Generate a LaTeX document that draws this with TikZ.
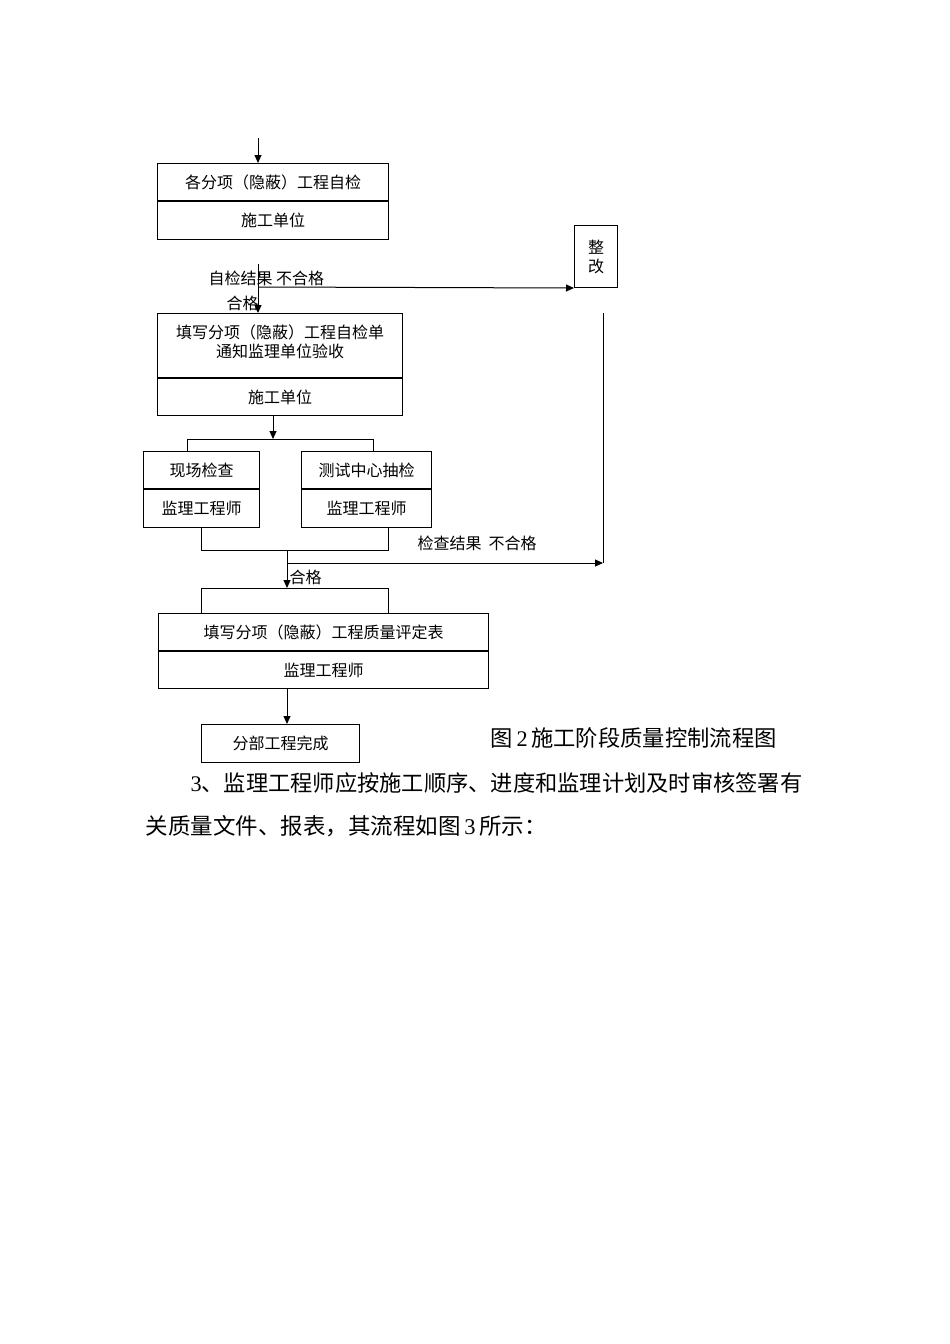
\documentclass[tikz,border=0pt]{standalone}
\usepackage{fontspec}
\setmainfont{Liberation Serif}
\newfontfamily\cjk{Noto Sans CJK SC}
\usetikzlibrary{arrows.meta}
\begin{document}
\begin{tikzpicture}[x=1pt,y=-1pt,
  line width=1pt,
  cell/.style={draw, line width=1pt, inner sep=0pt, anchor=north west, align=center,
    font=\fontsize{16}{19}\selectfont\cjk},
  lbl/.style={inner sep=0pt, font=\fontsize{16}{19}\selectfont\cjk},
  body/.style={inner sep=0pt, anchor=west},
  arr/.style={-{Triangle[length=8pt,width=7pt]}}]
\useasboundingbox (0,0) rectangle (950,1344);
\fill[white] (0,0) rectangle (950,1344);

% boxes
\node[cell, minimum width=231pt, minimum height=37pt] (b1t) at (157,163) {各分项（隐蔽）工程自检};
\node[cell, minimum width=231pt, minimum height=38pt] (b1b) at (b1t.south west) {施工单位};

\node[cell, minimum width=43pt, minimum height=62pt] (zg) at (574,225) {整\\改};

\node[cell, minimum width=245pt, minimum height=64pt] (b2t) at (157,313) {};
\node[lbl, align=center] (b2x) at ([yshift=3.5pt]b2t.center) {填写分项（隐蔽）工程自检单\\通知监理单位验收};
\node[cell, minimum width=245pt, minimum height=37pt] (b2b) at (b2t.south west) {施工单位};

\node[cell, minimum width=116pt, minimum height=37pt] (b3t) at (143,451) {现场检查};
\node[cell, minimum width=116pt, minimum height=38pt] (b3b) at (b3t.south west) {监理工程师};

\node[cell, minimum width=130pt, minimum height=37pt] (b4t) at (301,451) {测试中心抽检};
\node[cell, minimum width=130pt, minimum height=38pt] (b4b) at (b4t.south west) {监理工程师};

\node[cell, minimum width=330pt, minimum height=37pt] (b5t) at (158,613) {填写分项（隐蔽）工程质量评定表};
\node[cell, minimum width=330pt, minimum height=37pt] (b5b) at (b5t.south west) {监理工程师};

\node[cell, minimum width=158pt, minimum height=38pt] (b6) at (201,724) {分部工程完成};

% connectors
\coordinate (s0) at (258,138);
\draw[arr] (s0) -- (s0 |- b1t.north);
\coordinate (s1) at (258,264);
\draw[arr] (s1) -- (s1 |- b2t.north);
\coordinate (f1) at (258,287);
\draw[arr] (f1) -- (zg.south west);
\coordinate (r1) at (603,313);
\coordinate (r2) at (603,563);
\draw (r1) -- (r2);

\coordinate (a2) at (273,439);
\draw[arr] (a2 |- b2b.south) -- (a2);
\coordinate (bl) at (187,439);
\coordinate (br) at (373,439);
\draw (bl |- b3t.north) -- (bl) -- (br) -- (br |- b4t.north);

\coordinate (jl) at (201,550);
\coordinate (jr) at (388,550);
\draw (jl |- b3b.south) -- (jl) -- (jr) -- (jr |- b4b.south);
\coordinate (j0) at (287,550);
\coordinate (k0) at (287,588);
\draw[arr] (j0) -- (k0);
\coordinate (h0) at (287,563);
\draw[arr] (h0) -- (r2);
\coordinate (k1) at (201,588);
\coordinate (k2) at (388,588);
\draw (k1 |- b5t.north) -- (k1) -- (k2) -- (k2 |- b5t.north);

\coordinate (d0) at (287,700);
\draw[arr] (d0 |- b5b.south) -- (d0 |- b6.north);

% labels
\node[lbl, anchor=west] (l1) at (208,278) {自检结果 不合格};
\node[lbl, anchor=east] (l2) at (259,303) {合格};
\node[lbl, anchor=west] (l3) at (417,543) {检查结果\ \ 不合格};
\node[lbl, anchor=west] (l4) at (289,577) {合格};

% caption and body text
\node[body, font=\fontsize{22.3}{22.3}\selectfont\cjk] (cap) at (490,738) {图\,{\rmfamily 2}\,施工阶段质量控制流程图};
\node[body, font=\fontsize{22.25}{22.25}\selectfont\cjk] (p1) at (190,783) {{\rmfamily 3}、监理工程师应按施工顺序、进度和监理计划及时审核签署有};
\node[body, font=\fontsize{22.5}{22.5}\selectfont\cjk] (p2) at (145,826) {关质量文件、报表，其流程如图\,{\rmfamily 3}\,所示：};
\end{tikzpicture}
\end{document}
